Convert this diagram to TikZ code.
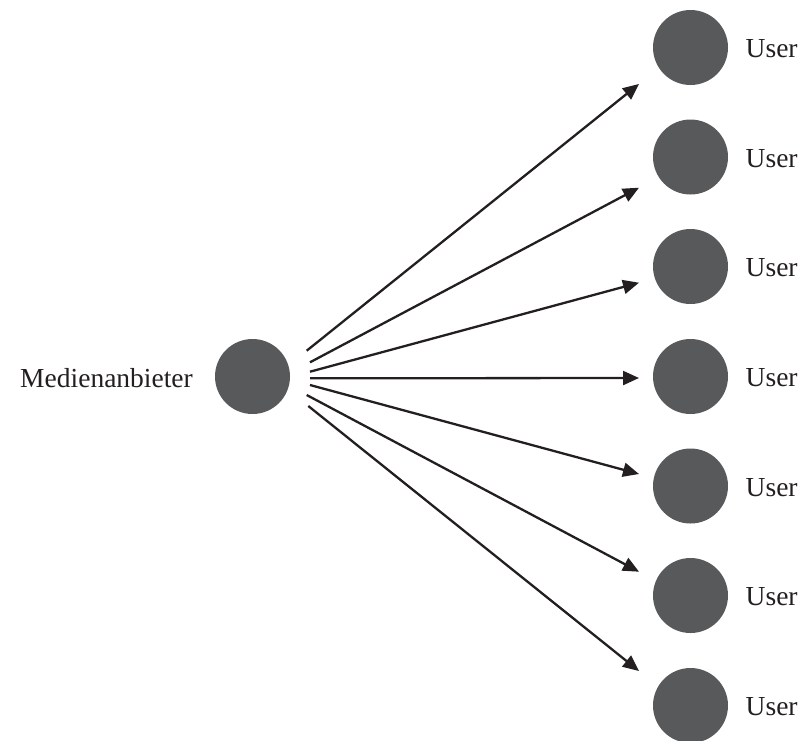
\documentclass[tikz,border=0pt]{standalone}
\usepackage{fontspec}
\setmainfont{Liberation Serif}
\usetikzlibrary{arrows.meta}
\definecolor{dotgray}{HTML}{58595B}
\definecolor{inkblack}{HTML}{231F20}
\begin{document}
\begin{tikzpicture}[x=1pt,y=-1pt,
  dot/.style={circle,fill=dotgray,draw=none,minimum size=75pt,inner sep=0pt},
  lbl/.style={text=inkblack,inner sep=0pt,font=\fontsize{27.5}{31}\selectfont},
  feed/.style={draw=inkblack,line width=2.3pt,-{Triangle[length=16pt,width=14pt]}}]
\useasboundingbox (0,0) rectangle (800,740);

% provider
\node[dot] (src) at (252.5,376.5) {};
\node[lbl,anchor=base east] (srclbl) at (193,387) {Medienanbieter};

% users
\foreach \i/\y in {1/47.5,2/157,3/266.5,4/376.5,5/486,6/595.5,7/705.5}{
  \node[dot] (u\i) at (690.5,\y) {};
  \node[lbl,anchor=base west] (l\i) at (745.5,\y+10) {User};
}

% connector ends
\foreach \i/\sx/\sy/\ty in {1/306.7/350.7/84,2/310/362.3/187.7,3/310/371.7/282.7,
    4/310/378.3/378,5/310/385/474,6/306.7/395/571.7,7/308.3/406/671}{
  \coordinate (a\i) at (\sx,\sy);
  \coordinate (b\i) at (639,\ty);
  \draw[feed] (a\i) -- (b\i);
}
\end{tikzpicture}
\end{document}
